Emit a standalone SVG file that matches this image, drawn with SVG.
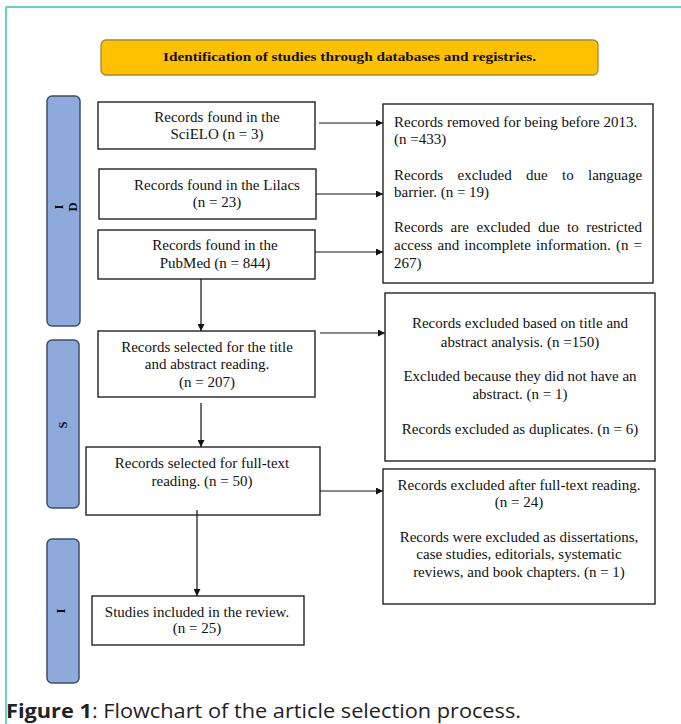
<svg xmlns="http://www.w3.org/2000/svg" width="681" height="724" viewBox="0 0 681 724">
<defs>
<marker id="ah" viewBox="0 0 10 10" refX="10" refY="5" markerWidth="7" markerHeight="7" markerUnits="userSpaceOnUse" orient="auto">
<path d="M0,0 L10,5 L0,10 z" fill="#111"/>
</marker>
<style>
.bx{fill:#fff;stroke:#222;stroke-width:1.4}
.bar{fill:#8EA9DB;stroke:#3F4E63;stroke-width:1.5}
.t{font-family:"Liberation Serif","Times New Roman",serif;font-size:15px;fill:#111}
.c{text-anchor:middle}
.e{text-anchor:end}
.bt{font-family:"Liberation Serif","Times New Roman",serif;font-size:12.5px;font-weight:bold;fill:#111;text-anchor:middle}
.ln{stroke:#111;stroke-width:1.2;fill:none}
</style>
</defs>
<rect width="681" height="724" fill="#fff"/>
<path d="M6,724 V7 H681" fill="none" stroke="#3FBFAE" stroke-width="1.5"/>

<g id="title">
<rect x="101" y="40" width="497" height="35" rx="5" fill="#FFC000" stroke="#A8862A" stroke-width="1.3"/>
<text x="349.5" y="61" font-family="Liberation Serif,'Times New Roman',serif" font-size="13" font-weight="bold" text-anchor="middle" textLength="373" lengthAdjust="spacingAndGlyphs" fill="#111">Identification of studies through databases and registries.</text>
</g>

<g id="bar-id">
<rect class="bar" x="47" y="96" width="33" height="230" rx="5"/>
<text class="bt" transform="translate(63,207) rotate(-90)">I</text>
<text class="bt" transform="translate(77,207) rotate(-90)">D</text>
</g>
<g id="bar-s">
<rect class="bar" x="47" y="340" width="32" height="168" rx="5"/>
<text class="bt" transform="translate(67,425) rotate(-90)">S</text>
</g>
<g id="bar-i">
<rect class="bar" x="47" y="539" width="32" height="144" rx="5"/>
<text class="bt" transform="translate(65,611) rotate(-90)">I</text>
</g>

<g id="scielo">
<rect class="bx" x="98" y="102" width="217" height="47"/>
<text class="t c" x="217" y="122">Records found in the</text>
<text class="t c" x="217" y="139">SciELO (n = 3)</text>
</g>
<g id="lilacs">
<rect class="bx" x="99" y="169" width="217" height="50"/>
<text class="t c" x="217" y="190">Records found in the Lilacs</text>
<text class="t c" x="217" y="207">(n = 23)</text>
</g>
<g id="pubmed">
<rect class="bx" x="98" y="230" width="217" height="49"/>
<text class="t c" x="215" y="250">Records found in the</text>
<text class="t c" x="215" y="268">PubMed (n = 844)</text>
</g>
<g id="selected">
<rect class="bx" x="98" y="331" width="217" height="66"/>
<text class="t c" x="207" y="352">Records selected for the title</text>
<text class="t c" x="207" y="369">and abstract reading.</text>
<text class="t c" x="207" y="387">(n = 207)</text>
</g>
<g id="fulltext">
<rect class="bx" x="86" y="447" width="234" height="68"/>
<text class="t c" x="202" y="468">Records selected for full-text</text>
<text class="t c" x="202" y="486">reading. (n = 50)</text>
</g>
<g id="included">
<rect class="bx" x="92" y="596" width="212" height="49"/>
<text class="t c" x="197" y="617">Studies included in the review.</text>
<text class="t c" x="197" y="633">(n = 25)</text>
</g>

<g id="removed">
<rect class="bx" x="383" y="104" width="270" height="179"/>
<text class="t" x="394" y="127">Records removed for being before 2013.</text>
<text class="t" x="394" y="144">(n =433)</text>
<text class="t" y="180"><tspan x="394">Records</tspan><tspan x="457.5">excluded</tspan><tspan x="526">due</tspan><tspan x="562">to</tspan><tspan x="588">language</tspan></text>
<text class="t" x="394" y="197">barrier. (n = 19)</text>
<text class="t" y="232"><tspan x="394">Records</tspan><tspan x="450.6">are</tspan><tspan x="476.4">excluded</tspan><tspan x="538">due</tspan><tspan x="567.1">to</tspan><tspan x="586.2">restricted</tspan></text>
<text class="t" y="250"><tspan x="394">access</tspan><tspan x="437.5">and</tspan><tspan x="464.3">incomplete</tspan><tspan x="536.1">information.</tspan><tspan x="615.9">(n</tspan><tspan x="633.5">=</tspan></text>
<text class="t" x="394" y="268">267)</text>
</g>
<g id="excluded-title">
<rect class="bx" x="385" y="293" width="270" height="168"/>
<text class="t c" x="520" y="328">Records excluded based on title and</text>
<text class="t c" x="520" y="347">abstract analysis. (n =150)</text>
<text class="t c" x="520" y="381">Excluded because they did not have an</text>
<text class="t c" x="520" y="399">abstract. (n = 1)</text>
<text class="t c" x="520" y="434">Records excluded as duplicates. (n = 6)</text>
</g>
<g id="excluded-full">
<rect class="bx" x="383" y="469" width="272" height="135"/>
<text class="t c" x="519" y="490">Records excluded after full-text reading.</text>
<text class="t c" x="519" y="507">(n = 24)</text>
<text class="t c" x="519" y="542">Records were excluded as dissertations,</text>
<text class="t c" x="519" y="559">case studies, editorials, systematic</text>
<text class="t c" x="519" y="577">reviews, and book chapters. (n = 1)</text>
</g>

<g id="connectors">
<line class="ln" x1="319" y1="123" x2="383" y2="123" marker-end="url(#ah)"/>
<line class="ln" x1="316" y1="194" x2="383" y2="194" marker-end="url(#ah)"/>
<line class="ln" x1="315" y1="252" x2="383" y2="252" marker-end="url(#ah)"/>
<line class="ln" x1="201" y1="279" x2="201" y2="331" marker-end="url(#ah)"/>
<line class="ln" x1="320" y1="333" x2="385" y2="333" marker-end="url(#ah)"/>
<line class="ln" x1="201" y1="403" x2="201" y2="447" marker-end="url(#ah)"/>
<line class="ln" x1="320" y1="491" x2="383" y2="491" marker-end="url(#ah)"/>
<line class="ln" x1="197" y1="510" x2="197" y2="596" marker-end="url(#ah)"/>
</g>

<text x="6" y="718" font-family="'Open Sans','Noto Sans',sans-serif" font-size="20" fill="#222" textLength="515" lengthAdjust="spacingAndGlyphs"><tspan font-weight="bold">Figure 1</tspan>: Flowchart of the article selection process.</text>
</svg>
